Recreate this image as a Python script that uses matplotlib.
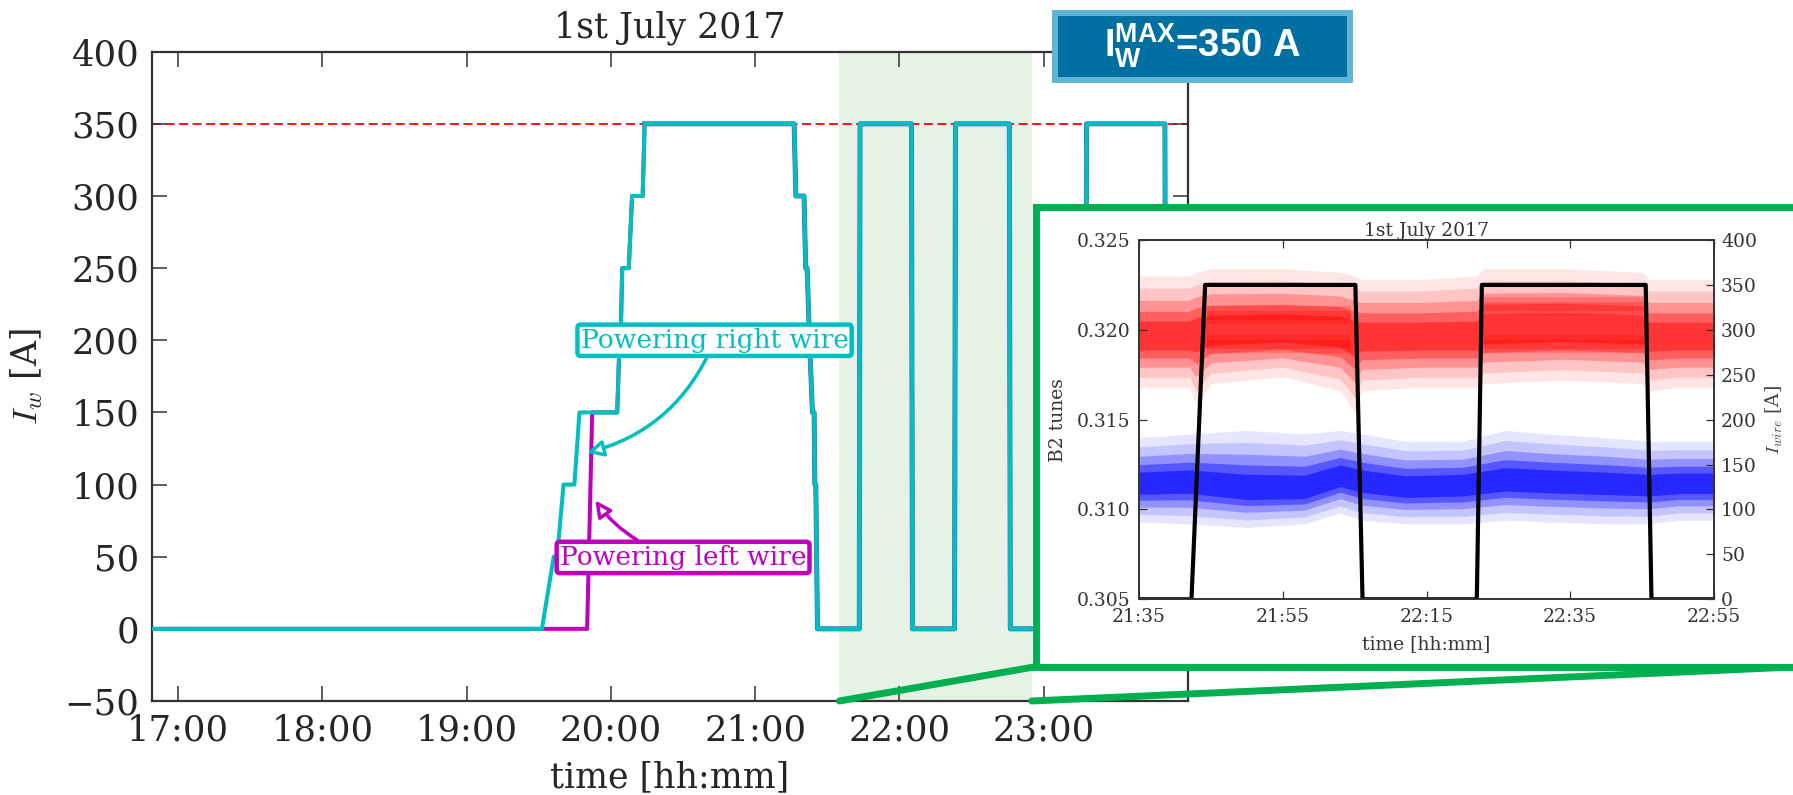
import matplotlib
matplotlib.use("Agg")
import numpy as np
import matplotlib.pyplot as plt
from matplotlib.patches import Rectangle, ConnectionPatch
from matplotlib.ticker import FuncFormatter, MultipleLocator

plt.rcParams["font.family"] = "DejaVu Serif"
plt.rcParams["mathtext.fontset"] = "cm"
plt.rcParams["mathtext.bf"] = "Liberation Sans:bold"   # only for the custom math box

# main plot: wire currents (hh:mm, A)
t_right = ["16:49", "19:31.3", "19:36.2", "19:37.6", "19:40.3", "19:44.8", "19:46.9",
           "20:02.6", "20:03.6", "20:04.0", "20:04.7", "20:07.4", "20:08.8", "20:13.2",
           "20:14.0", "21:16.2", "21:16.9", "21:20.3", "21:21.0", "21:21.6", "21:22.6",
           "21:23.8", "21:24.5", "21:24.8", "21:25.2", "21:25.9", "21:43.3", "21:43.6",
           "22:05.0", "22:05.4", "22:22.9", "22:23.3", "22:45.7", "22:46.1", "23:17.4",
           "23:17.8", "23:50.4", "23:50.8", "24:00"]
i_right = [0, 0, 50, 50, 100, 100, 150,
           150, 200, 200, 250, 250, 300, 300,
           350, 350, 300, 300, 250, 250, 200,
           150, 150, 100, 100, 0, 0, 350,
           350, 0, 0, 350, 350, 0, 0,
           350, 350, 0, 0]

t_left_start = ["16:49", "19:50.1", "19:52.2"]
i_left_start = [0, 0, 150]

i_max = 350
span_start, span_end = "21:35", "22:55"

# inset: B2 tunes clouds and wire current
red_t = ["21:35", "21:42", "21:43", "21:45", "21:55", "22:03", "22:05", "22:06", "22:14",
         "22:22", "22:23", "22:34", "22:45", "22:46", "22:50", "22:55"]
red_mid = [0.3196, 0.3196, 0.3198, 0.3199, 0.3200, 0.3199, 0.3196, 0.3196, 0.3196,
           0.3196, 0.3200, 0.3201, 0.3200, 0.3196, 0.3196, 0.3196]
red_hi = [0.3230, 0.3230, 0.3232, 0.3234, 0.3234, 0.3232, 0.3230, 0.3228, 0.3228,
          0.3230, 0.3234, 0.3234, 0.3232, 0.3228, 0.3228, 0.3228]
red_lo = [0.3168, 0.3168, 0.3158, 0.3170, 0.3174, 0.3166, 0.3154, 0.3166, 0.3168,
          0.3168, 0.3170, 0.3172, 0.3170, 0.3166, 0.3168, 0.3168]

band_start = ["21:44.5", "21:44.5", "22:23.0", "22:23.0"]
band_end = ["22:04.5", "22:04.5", "22:45.3", "22:45.3"]
band_val = [0.3208, 0.3192, 0.3213, 0.3192]

blue_t = ["21:35", "21:42", "21:50", "21:58", "22:03", "22:06", "22:12", "22:20", "22:26",
          "22:32", "22:40", "22:46", "22:50", "22:55"]
blue_mid = [0.3114, 0.3115, 0.3111, 0.3111, 0.3118, 0.3115, 0.3112, 0.3113, 0.3116,
            0.3115, 0.3114, 0.3113, 0.3114, 0.3114]
blue_hi = [0.3140, 0.3142, 0.3144, 0.3142, 0.3144, 0.3142, 0.3138, 0.3138, 0.3144,
           0.3142, 0.3140, 0.3138, 0.3138, 0.3138]
blue_lo = [0.3093, 0.3092, 0.3090, 0.3092, 0.3098, 0.3094, 0.3092, 0.3092, 0.3094,
           0.3093, 0.3092, 0.3092, 0.3094, 0.3094]

t_wire = ["21:35", "21:42.3", "21:44.2", "22:05.1", "22:06.1", "22:22.0", "22:22.7",
          "22:45.5", "22:46.3", "22:55"]
i_wire = [0, 0, 350, 350, 0, 0, 350, 350, 0, 0]


def hrs(s):
    h, m = s.split(":")
    return int(h) + float(m) / 60.0


def hhmm(v, pos=None):
    tot = int(round(v * 60))
    return f"{tot // 60:02d}:{tot % 60:02d}"


W, H = 1793, 795
def fx(px):
    return px / W
def fy(py):
    return 1 - py / H


DARK = "#333333"
GREEN = "#00B050"

fig = plt.figure(figsize=(17.93, 7.95), dpi=100)

# ---------------- main axes
ax = fig.add_axes([fx(151.7), fy(701), fx(1188) - fx(151.7), fy(51.7) - fy(701)])

tr = np.array([hrs(s) for s in t_right])
ir = np.array(i_right)
tl = np.concatenate([[hrs(s) for s in t_left_start], tr[7:]])
il = np.concatenate([i_left_start, ir[7:]])

ax.axvspan(hrs(span_start), hrs(span_end), color="green", alpha=0.1, lw=0, zorder=0)
ax.axhline(i_max, color="red", lw=1.3, ls=(0, (5, 2.5)), zorder=1)
ax.plot(tl, il, color="m", lw=2.9, zorder=2)
ax.plot(tr[14:], ir[14:], color="#5a62c8", lw=3.6, zorder=2.5)
ax.plot(tr, ir, color="c", lw=2.9, zorder=3)

ax.annotate("Powering right wire", xy=(hrs("19:50.1"), 122), xytext=(hrs("20:43.1"), 200),
            ha="center", va="center", color="c", fontsize=19, zorder=6,
            bbox=dict(boxstyle="round,pad=0.12", fc="w", ec="c", lw=3.2),
            arrowprops=dict(arrowstyle="-|>,head_length=0.5,head_width=0.25", fc="w", ec="c",
                            lw=2.5, connectionstyle="arc3,rad=-0.25", shrinkA=0, shrinkB=0))
ax.annotate("Powering left wire", xy=(hrs("19:53.5"), 89), xytext=(hrs("20:30.0"), 49.5),
            ha="center", va="center", color="m", fontsize=19, zorder=6,
            bbox=dict(boxstyle="round,pad=0.12", fc="w", ec="m", lw=3.2),
            arrowprops=dict(arrowstyle="-|>,head_length=0.5,head_width=0.25", fc="w", ec="m",
                            lw=2.5, connectionstyle="arc3,rad=-0.2", shrinkA=0, shrinkB=0))

ax.set_xlim(hrs("16:49"), hrs("24:00"))
ax.set_ylim(-50, 400)
ax.set_xticks(range(17, 24))
ax.set_yticks(range(-50, 401, 50))
ax.xaxis.set_major_formatter(FuncFormatter(hhmm))
ax.tick_params(direction="in", length=11, width=1.1, top=True, right=True,
               labelsize=25.5, pad=9, color=DARK, labelcolor="#262626")
for sp in ax.spines.values():
    sp.set_linewidth(1.6)
    sp.set_color(DARK)
ax.set_title("1st July 2017", fontsize=25, pad=10, color="#262626")
ax.set_xlabel("time [hh:mm]", fontsize=25, color="#262626", labelpad=9)
ax.set_ylabel(r"$I_w$ [A]", fontsize=25, color="#262626", labelpad=14)

# ---------------- zoom frame and connecting lines
x0, x1 = fx(1035.5), fx(1800)
y0, y1 = fy(666.7), fy(206.7)
con1 = ConnectionPatch(xyA=(hrs(span_start), -50), coordsA=ax.transData,
                       xyB=(x0, y0), coordsB=fig.transFigure, color=GREEN, lw=5, zorder=1.8)
con2 = ConnectionPatch(xyA=(hrs(span_end), -50), coordsA=ax.transData,
                       xyB=(x1, y0), coordsB=fig.transFigure, color=GREEN, lw=5, zorder=1.8)
fig.add_artist(con1)
fig.add_artist(con2)
fig.add_artist(Rectangle((x0, y0), x1 - x0, y1 - y0, transform=fig.transFigure,
                         fc="white", ec=GREEN, lw=5, zorder=2))

# ---------------- inset
ax_in = fig.add_axes([fx(1139), fy(599.3), fx(1714) - fx(1139), fy(240) - fy(599.3)], zorder=3)
ax_w = ax_in.twinx()
ax_w.set_zorder(3.5)


def cloud(axis, t, mid, lo, hi, color, alphas):
    t = np.array([hrs(s) for s in t])
    mid, lo, hi = np.array(mid), np.array(lo), np.array(hi)
    for f, a in zip([1.0, 0.8, 0.6, 0.42, 0.26], alphas):
        axis.fill_between(t, mid - f * (mid - lo), mid + f * (hi - mid),
                          color=color, alpha=a, lw=0)


cloud(ax_in, red_t, red_mid, red_lo, red_hi, "red", [0.10, 0.14, 0.25, 0.35, 0.45])
for s, e, v in zip(band_start, band_end, band_val):
    ax_in.fill_between([hrs(s), hrs(e)], [v - 0.0005] * 2, [v + 0.0005] * 2,
                       color="red", alpha=0.2, lw=0)
    ax_in.fill_between([hrs(s), hrs(e)], [v - 0.00025] * 2, [v + 0.00025] * 2,
                       color="red", alpha=0.25, lw=0)
cloud(ax_in, blue_t, blue_mid, blue_lo, blue_hi, "blue", [0.10, 0.14, 0.25, 0.4, 0.55])

ax_w.plot([hrs(s) for s in t_wire], i_wire, color="black", lw=3)

ax_in.set_xlim(hrs("21:35"), hrs("22:55"))
ax_in.set_ylim(0.305, 0.325)
ax_in.set_xticks([hrs(s) for s in ["21:35", "21:55", "22:15", "22:35", "22:55"]])
ax_in.xaxis.set_major_formatter(FuncFormatter(hhmm))
ax_in.yaxis.set_major_locator(MultipleLocator(0.005))
ax_in.yaxis.set_major_formatter(FuncFormatter(lambda v, p: f"{v:.3f}"))
ax_w.set_ylim(0, 400)
ax_w.yaxis.set_major_locator(MultipleLocator(50))

ax_in.tick_params(direction="in", length=6, width=0.9, top=True, right=False,
                  labelsize=13.5, pad=6, color=DARK, labelcolor="#333333")
ax_w.tick_params(direction="in", length=6, width=0.9, labelsize=13.5, pad=5,
                 color=DARK, labelcolor="#333333")
for a in (ax_in, ax_w):
    for sp in a.spines.values():
        sp.set_linewidth(1.2)
        sp.set_color(DARK)

ax_in.set_title("1st July 2017", fontsize=13.5, pad=3, color="#333333")
ax_in.set_xlabel("time [hh:mm]", fontsize=13.5, labelpad=7, color="#333333")
ax_in.set_ylabel("B2 tunes", fontsize=13.5, labelpad=7, color="#333333")
ax_w.set_ylabel(r"$I_{wire}$ [A]", fontsize=13.5, labelpad=5, color="#444444")

# ---------------- I_W^MAX box
fig.add_artist(Rectangle((fx(1054.7), fy(79.7)), fx(1349.7) - fx(1054.7), fy(13) - fy(79.7),
                         transform=fig.transFigure, fc="#0070A3", ec="#60B4D4", lw=4.3, zorder=5))
fig.text(fx(1202), fy(46.3), r"$\mathbf{I}_{\mathbf{W}}^{\mathbf{MAX}}$=350 A",
         ha="center", va="center", color="white", fontsize=27.5, fontweight="bold",
         family="Liberation Sans", math_fontfamily="custom", zorder=6)

fig.savefig("out.png", dpi=100)
